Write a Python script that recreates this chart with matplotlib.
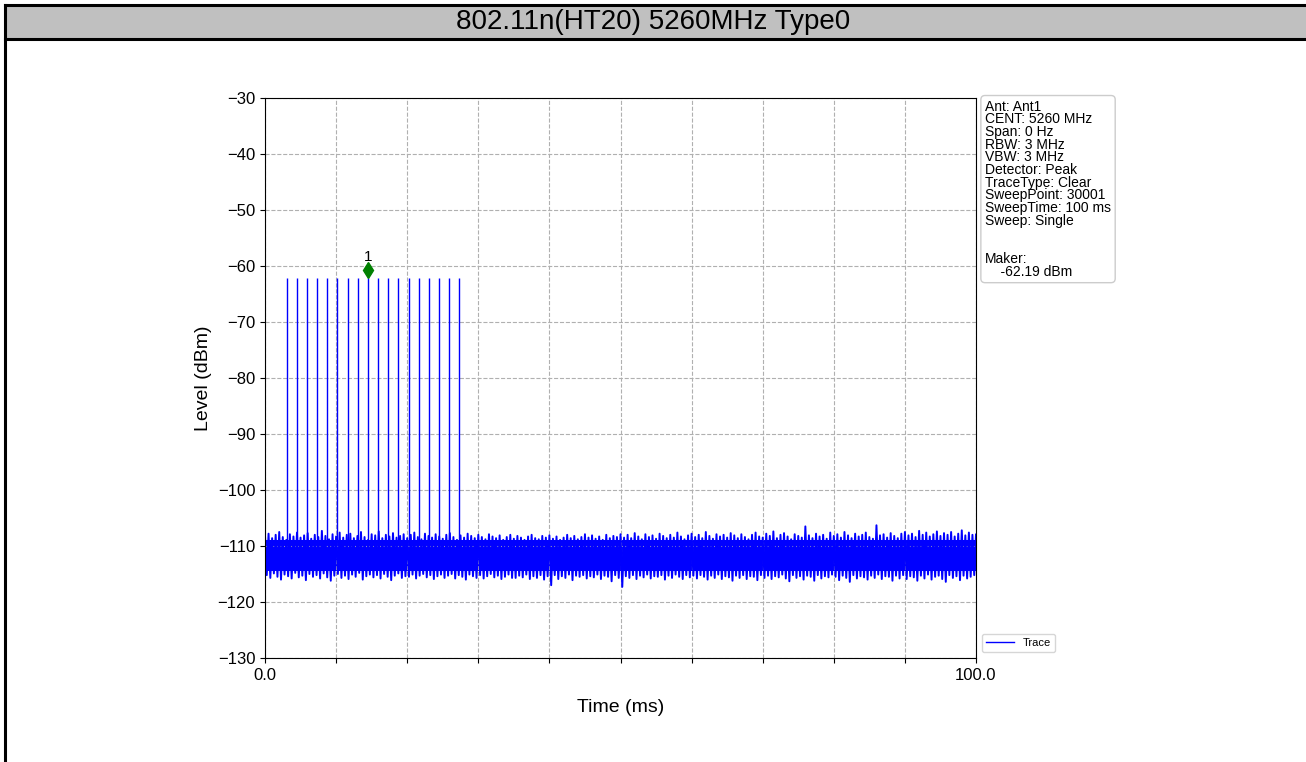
import numpy as np
import matplotlib
matplotlib.use("Agg")
from matplotlib import pyplot as plt
from matplotlib.patches import Rectangle
from matplotlib.lines import Line2D

plt.rcParams['font.family'] = ['Liberation Sans', 'DejaVu Sans']
plt.rcParams['axes.unicode_minus'] = True

title = "802.11n(HT20) 5260MHz Type0"

# pulse positions (ms) and peak level
pulse_times = [3.05, 4.48, 5.91, 7.33, 8.76, 10.19, 11.62, 13.05, 14.47,
               15.90, 17.33, 18.76, 20.19, 21.61, 23.04, 24.47, 25.90, 27.33]
pulse_level = -62.19
marker_time = 14.47

# noise floor envelope, one sample per 0.5 ms
noise_hi = [
    -108.2, -107.8, -108.6, -108.0, -107.5, -108.4, -108.9, -107.9, -108.3, -107.6,
    -108.5, -108.1, -107.7, -108.7, -108.0, -108.4, -107.3, -108.2, -108.8, -107.9,
    -108.3, -107.6, -108.5, -108.0, -107.8, -108.6, -108.2, -107.5, -108.4, -108.9,
    -107.9, -108.1, -107.4, -108.6, -108.0, -108.3, -107.7, -108.5, -108.2, -107.9,
    -108.6, -108.0, -107.6, -108.4, -108.8, -107.8, -108.2, -108.5, -107.9, -108.3,
    -108.7, -108.0, -107.7, -108.4, -108.9, -108.1, -108.5, -107.8, -108.2, -108.6,
    -108.0, -108.4, -108.8, -107.9, -108.3, -108.6, -108.1, -108.9, -108.4, -108.0,
    -108.7, -108.2, -108.5, -108.9, -108.3, -108.0, -108.6, -108.8, -108.2, -108.5,
    -108.1, -108.7, -108.3, -108.9, -108.5, -108.0, -108.6, -108.2, -108.8, -108.4,
    -107.9, -108.5, -108.1, -108.7, -108.3, -108.9, -108.0, -108.6, -108.2, -108.4,
    -107.9, -108.5, -108.0, -108.6, -107.7, -108.3, -108.8, -107.9, -108.4, -108.1,
    -108.7, -107.8, -108.2, -108.6, -108.0, -108.5, -107.6, -108.3, -108.8, -108.1,
    -107.8, -108.4, -108.0, -108.6, -107.5, -108.2, -108.7, -107.9, -108.3, -108.0,
    -108.5, -107.7, -108.1, -108.6, -107.9, -108.4, -108.8, -108.0, -107.6, -108.3,
    -108.5, -107.8, -108.2, -107.4, -108.6, -108.0, -107.7, -108.3, -108.8, -107.9,
    -108.2, -108.5, -106.5, -108.1, -108.6, -107.8, -108.3, -108.0, -108.7, -107.6,
    -108.2, -107.9, -108.5, -107.5, -108.1, -108.6, -107.8, -108.3, -108.0, -107.6,
    -108.4, -108.7, -106.3, -108.1, -107.9, -108.5, -107.7, -108.2, -108.6, -107.8,
    -107.5, -108.1, -107.8, -108.4, -107.3, -108.0, -107.6, -108.3, -107.9, -107.4,
    -108.2, -107.7, -108.0, -107.5, -108.3, -107.8, -107.2, -108.1, -107.6, -108.0,
    -107.9]
noise_lo = [
    -115.2, -115.7, -114.9, -115.5, -116.0, -115.1, -115.4, -115.8, -114.8, -115.6,
    -115.3, -116.1, -115.0, -115.5, -115.2, -115.8, -114.9, -115.6, -116.2, -115.3,
    -115.0, -115.7, -115.3, -115.9, -115.1, -115.5, -114.8, -116.0, -115.4, -115.1,
    -115.6, -115.2, -115.8, -115.0, -115.5, -116.1, -115.3, -114.9, -115.7, -115.4,
    -115.5, -115.1, -115.8, -115.3, -115.0, -115.6, -115.2, -115.9, -115.4, -115.1,
    -115.7, -115.3, -115.0, -115.8, -115.2, -115.5, -116.0, -115.1, -115.4, -115.7,
    -115.2, -115.8, -115.4, -115.0, -115.6, -115.3, -115.9, -115.5, -115.1, -115.7,
    -115.7, -115.3, -115.6, -115.1, -115.9, -115.4, -115.7, -115.2, -116.0, -115.4,
    -117.0, -115.2, -115.9, -115.4, -115.7, -115.1, -116.1, -115.3, -115.5, -115.2,
    -115.8, -115.4, -115.6, -115.1, -115.9, -115.3, -115.5, -116.3, -115.2, -115.7,
    -117.3, -115.4, -115.7, -115.2, -115.9, -115.3, -115.6, -115.1, -115.8, -115.4,
    -115.5, -115.2, -116.0, -115.3, -115.7, -115.1, -115.5, -115.9, -115.2, -115.6,
    -115.3, -115.8, -115.2, -115.5, -116.0, -115.3, -115.7, -115.1, -115.9, -115.4,
    -115.6, -116.2, -115.3, -115.7, -115.2, -115.9, -115.4, -115.5, -116.1, -115.2,
    -115.7, -115.3, -115.9, -115.4, -115.6, -115.1, -115.8, -116.3, -115.2, -115.7,
    -115.4, -116.0, -115.3, -115.5, -116.2, -115.2, -115.8, -115.4, -115.6, -115.1,
    -115.5, -116.1, -115.3, -115.7, -116.4, -115.2, -115.8, -115.4, -115.6, -116.0,
    -115.3, -115.7, -115.1, -115.9, -115.4, -115.5, -116.2, -115.3, -115.8, -115.2,
    -115.9, -115.4, -115.6, -116.2, -115.3, -115.8, -115.1, -116.0, -115.5, -115.3,
    -115.9, -116.4, -115.2, -115.7, -115.4, -116.1, -115.3, -115.8, -115.5, -115.2,
    -115.7]
core_top = -108.9
core_bottom = -114.5

info_lines = ["Ant: Ant1", "CENT: 5260 MHz", "Span: 0 Hz", "RBW: 3 MHz", "VBW: 3 MHz",
              "Detector: Peak", "TraceType: Clear", "SweepPoint: 30001",
              "SweepTime: 100 ms", "Sweep: Single", "", "", "Maker:", "    -62.19 dBm"]

fig = plt.figure(figsize=(13.06, 7.62), dpi=100)
W, H = 1306.0, 762.0

# header bar + frame lines
fig.patches.append(Rectangle((5 / W, 1 - 39 / H), 1, 34 / H, transform=fig.transFigure,
                             facecolor='#c0c0c0', edgecolor='none', zorder=0))
for xs, ys in [((5 / W, 1), (1 - 5 / H, 1 - 5 / H)),
               ((5 / W, 1), (1 - 39 / H, 1 - 39 / H)),
               ((5 / W, 5 / W), (0, 1 - 5 / H))]:
    fig.lines.append(Line2D(xs, ys, transform=fig.transFigure, color='black', lw=2.2))
fig.text(0.5, 1 - 22 / H, title, ha='center', va='center', fontsize=20)

ax = fig.add_axes([265 / W, 1 - 658 / H, 711 / W, 560 / H])

t = np.linspace(0, 100, len(noise_hi))
step = t[1] - t[0]
zx = np.empty(2 * len(t))
zy = np.empty(2 * len(t))
zx[0::2] = t
zx[1::2] = t + step / 2
zy[0::2] = noise_hi
zy[1::2] = noise_lo
ax.fill_between([0, 100], core_bottom, core_top, color='blue', lw=0)
ax.plot(zx, zy, color='blue', lw=1.4)
ax.vlines(pulse_times, core_top, pulse_level, color='blue', lw=1.0)
ax.plot([], [], color='blue', lw=1.0, label='Trace')
ax.plot(marker_time, pulse_level + 1.4, 'd', color='green', markersize=8)
ax.text(marker_time, pulse_level + 2.6, '1', ha='center', va='bottom', fontsize=11)

ax.set_xlim(0, 100)
ax.set_ylim(-130, -30)
ax.set_xticks(np.arange(0, 101, 10))
ax.set_xticklabels(['0.0'] + [''] * 9 + ['100.0'])
ax.set_yticks(np.arange(-130, -29, 10))
ax.tick_params(labelsize=12)
ax.grid(True, linestyle='--', color='#b0b0b0', lw=0.8)
ax.set_xlabel('Time (ms)', fontsize=14, labelpad=12)
ax.set_ylabel('Level (dBm)', fontsize=14)

ax.text(1.0127, 0.997, "\n".join(info_lines), transform=ax.transAxes, ha='left', va='top',
        fontsize=10, linespacing=0.88,
        bbox=dict(boxstyle='round,pad=0.3', facecolor='white', edgecolor='#cccccc'))
ax.legend(loc='lower left', bbox_to_anchor=(1.0, 0.0), fontsize=8, handlelength=2.5)

fig.savefig('out.png', dpi=100)
